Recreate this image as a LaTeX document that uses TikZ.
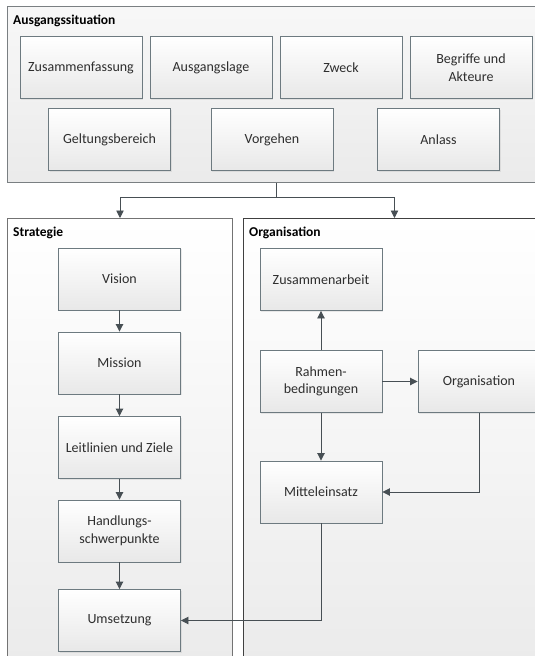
\documentclass[tikz,border=0pt]{standalone}
\usepackage{fontspec}
\setmainfont{Carlito}
\usetikzlibrary{arrows.meta,shadows}
\definecolor{boxline}{HTML}{6D7A80}
\definecolor{contline}{HTML}{7A7F82}
\definecolor{arrowcol}{HTML}{474F54}
\definecolor{txt}{HTML}{2E2E2E}
\tikzset{
  x=1pt, y=-1pt,
  box/.style={draw=boxline, line width=0.9pt, top color=white, bottom color=black!9,
    minimum width=122pt, minimum height=62pt, inner sep=2pt, align=center,
    text=txt, font=\fontsize{14}{17.5}\selectfont,
    drop shadow={opacity=0.15, shadow xshift=1.2pt, shadow yshift=-1.2pt}},
  cont/.style={draw=contline, line width=1pt, top color=white, bottom color=black!8,
    anchor=north west, inner sep=0pt},
  title/.style={anchor=west, inner sep=0pt, text=black, font=\bfseries\fontsize{13.5}{16}\selectfont},
  conn/.style={draw=arrowcol, line width=0.9pt},
  arr/.style={conn, -{Triangle[length=7.5pt,width=7.5pt]}},
}
\begin{document}
\begin{tikzpicture}
\clip (0,0) rectangle (535,656);
\fill[white] (0,0) rectangle (535,656);
% containers
\node[cont, minimum width=538pt, minimum height=176pt, top color=black!3, bottom color=black!8] (top) at (7,6) {};
\node[cont, minimum width=225pt, minimum height=452pt, draw=black!55] (strat) at (7,218) {};
\node[cont, minimum width=302pt, minimum height=452pt, draw=black!75] (orga) at (243,218) {};
% titles
\node[title] (t1) at (13,21) {Ausgangssituation};
\node[title] (t2) at (13,233) {Strategie};
\node[title] (t3) at (249,233) {Organisation};
% top boxes
\node[box] (zf) at (81,67.5) {Zusammenfassung};
\node[box] (al) at (211,67.5) {Ausgangslage};
\node[box] (zw) at (341,67.5) {Zweck};
\node[box] (ba) at (471,67.5) {Begriffe und\\Akteure};
\node[box] (gb) at (109.5,139.5) {Geltungsbereich};
\node[box] (vg) at (272,139.5) {Vorgehen};
\node[box] (an) at (438.5,139.5) {Anlass};
% strategy
\node[box] (vi) at (119.5,279) {Vision};
\node[box] (mi) at (119.5,363) {Mission};
\node[box] (lz) at (119.5,447.5) {Leitlinien und Ziele};
\node[box] (hs) at (119.5,531) {Handlungs-\\schwerpunkte};
\node[box] (um) at (119.5,620.5) {Umsetzung};
% organisation
\node[box] (za) at (321,279.5) {Zusammenarbeit};
\node[box] (rb) at (321,381.5) {Rahmen-\\bedingungen};
\node[box] (mt) at (321,492) {Mitteleinsatz};
\node[box] (og) at (479,381.5) {Organisation};
% connectors
\coordinate (jn) at (276,197);
\draw[conn] (top.south -| jn) -- (jn);
\draw[arr] (jn) -| (strat.north);
\draw[arr] (jn) -| (orga.north);
\draw[arr] (vi) -- (mi);
\draw[arr] (mi) -- (lz);
\draw[arr] (lz) -- (hs);
\draw[arr] (hs) -- (um);
\draw[arr] (rb) -- (za);
\draw[arr] (rb) -- (og);
\draw[arr] (rb) -- (mt);
\draw[arr] (og.south) |- (mt.east);
\draw[arr] (mt.south) |- (um.east);
\end{tikzpicture}
\end{document}
